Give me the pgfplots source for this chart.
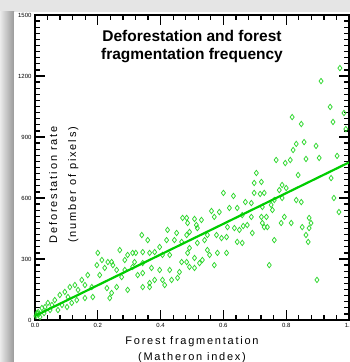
\documentclass[border=0pt]{standalone}
\usepackage{fontspec}
\setmainfont{Liberation Sans}
\usepackage{pgfplots}
\pgfplotsset{compat=1.18}
\definecolor{ptgreen}{RGB}{45,215,45}
\definecolor{lngreen}{RGB}{0,205,0}
\begin{document}
\begin{tikzpicture}
\path[use as bounding box] (0pt,0pt) rectangle (350pt,362pt);
\clip (0pt,0pt) rectangle (350pt,362pt);
\fill[black!10] (0pt,0pt) rectangle (350pt,362pt);
\shade[left color=black!8, right color=black!40] (0pt,0pt) rectangle (14pt,350pt);
\fill[white] (14pt,0pt) rectangle (350pt,350pt);
\begin{axis}[
  at={(35pt,42pt)}, anchor=south west,
  width=314pt, height=305pt, scale only axis,
  xmin=0, xmax=1, ymin=0, ymax=1500,
  axis line style={line width=1.3pt},
  every tick/.style={line width=1.3pt, black},
  major tick length=10pt, minor tick length=5pt,
  tick align=inside,
  xtick={0,0.2,0.4,0.6,0.8,1.0}, minor x tick num=4,
  ytick={0,300,600,900,1200,1500}, minor y tick num=9,
  xtick pos=both, ytick pos=both,
  xticklabel pos=lower, yticklabel pos=left,
  /pgf/number format/assume math mode=true,
  /pgf/number format/1000 sep={},
  scaled ticks=false,
  xticklabel style={font=\fontsize{6}{6}\selectfont, /pgf/number format/fixed, /pgf/number format/fixed zerofill, /pgf/number format/precision=1},
  yticklabel style={font=\fontsize{6}{6}\selectfont},
  clip mode=individual,
]
\addplot[only marks, mark=diamond, mark size=2.7pt, mark options={draw=ptgreen, line width=0.75pt, fill=none}] table {
x y
0.006 34
0.010 39
0.016 15
0.022 59
0.032 64
0.041 84
0.048 49
0.063 98
0.079 123
0.086 74
0.095 138
0.102 64
0.105 113
0.111 162
0.117 84
0.127 172
0.133 98
0.137 148
0.149 197
0.159 172
0.159 108
0.168 221
0.181 162
0.184 113
0.197 270
0.200 330
0.206 221
0.213 295
0.222 256
0.229 157
0.232 285
0.029 34
0.054 74
0.003 20
0.013 30
0.073 49
0.244 285
0.248 270
0.244 133
0.260 246
0.260 162
0.270 344
0.276 211
0.286 295
0.286 246
0.295 320
0.295 148
0.311 330
0.311 261
0.321 330
0.317 285
0.327 221
0.340 418
0.343 334
0.343 280
0.343 231
0.343 162
0.359 393
0.365 330
0.365 162
0.371 256
0.381 334
0.381 197
0.397 359
0.397 246
0.406 320
0.406 197
0.419 393
0.422 443
0.429 320
0.429 246
0.435 197
0.444 393
0.451 428
0.454 207
0.460 236
0.467 384
0.467 285
0.470 502
0.483 285
0.238 108
0.365 182
0.413 172
0.483 502
0.486 477
0.492 433
0.483 418
0.508 497
0.514 467
0.517 452
0.530 492
0.562 536
0.571 507
0.587 531
0.600 625
0.619 551
0.632 610
0.644 551
0.660 516
0.670 580
0.689 575
0.689 507
0.698 674
0.698 625
0.705 723
0.717 620
0.721 679
0.613 457
0.635 452
0.651 443
0.663 462
0.676 467
0.692 428
0.578 418
0.594 403
0.610 408
0.549 418
0.540 393
0.517 379
0.492 354
0.644 384
0.660 379
0.581 330
0.610 330
0.549 344
0.556 320
0.508 305
0.533 295
0.524 280
0.571 270
0.492 261
0.508 256
0.486 330
0.730 625
0.730 457
0.721 507
0.724 556
0.724 477
0.737 507
0.740 457
0.746 270
0.752 566
0.756 541
0.762 590
0.762 393
0.768 787
0.778 639
0.787 664
0.787 600
0.784 477
0.794 507
0.797 772
0.800 649
0.813 787
0.816 477
0.819 998
0.822 836
0.832 866
0.832 590
0.838 713
0.848 964
0.848 580
0.851 457
0.857 875
0.863 792
0.863 418
0.870 384
0.873 502
0.873 452
0.879 477
0.895 856
0.898 197
0.905 797
0.911 1175
0.940 1048
0.943 698
0.949 974
0.952 600
0.962 807
0.968 531
0.971 1239
0.984 1018
0.990 939
};
\addplot[lngreen, line width=2.2pt] coordinates {(0,20) (1,775)};
\node[font=\fontsize{15.5}{18}\selectfont\bfseries, align=center] at (rel axis cs:0.5,0.898) {Deforestation and forest\\fragmentation frequency};
\node[font=\fontsize{11}{19}\selectfont\addfontfeature{LetterSpace=17}, align=center, rotate=90] at (rel axis cs:0.092,0.443) {Deforestation rate\\(number of pixels)};
\node[font=\fontsize{11}{16}\selectfont\addfontfeature{LetterSpace=16}, align=center, anchor=north] at (rel axis cs:0.5,-0.043) {Forest fragmentation\\(Matheron index)};
\end{axis}
\end{tikzpicture}
\end{document}
